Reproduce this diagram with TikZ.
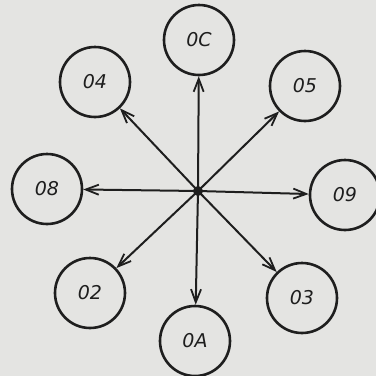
\documentclass[tikz,border=0pt]{standalone}
\usetikzlibrary{arrows.meta}
\usepackage{fontspec}
\newfontfamily\lblfont{DejaVu Sans}
\definecolor{bg}{HTML}{E4E4E2}
\definecolor{ink}{HTML}{1E1E1E}
\begin{document}
\begin{tikzpicture}[x=1pt,y=-1pt,
  blob/.style={circle,draw=ink,line width=2.6pt,minimum size=70pt,inner sep=0pt,
    font=\fontsize{19}{22}\selectfont\lblfont\itshape,text=ink},
  ray/.style={draw=ink,line width=2pt,-{Straight Barb[length=13pt,width=10pt,line width=1.8pt]}}]
\fill[bg] (0,0) rectangle (376,376);
\useasboundingbox (0,0) rectangle (376,376);
\node[blob] (oc) at (199,40) {0C};
\node[blob] (o4) at (95,82) {04};
\node[blob] (o5) at (305,86) {05};
\node[blob] (o8) at (47,189) {08};
\node[blob] (o9) at (345,195) {09};
\node[blob] (o2) at (90,293) {02};
\node[blob] (o3) at (302,298) {03};
\node[blob] (oa) at (195,341) {0A};
\node[circle,fill=ink,minimum size=10pt,inner sep=0pt] (c) at (198,191) {};
\foreach \t in {oc,o4,o5,o8,o9,o2,o3,oa}{
  \draw[ray] (c.center) -- (\t);
}
\end{tikzpicture}
\end{document}
